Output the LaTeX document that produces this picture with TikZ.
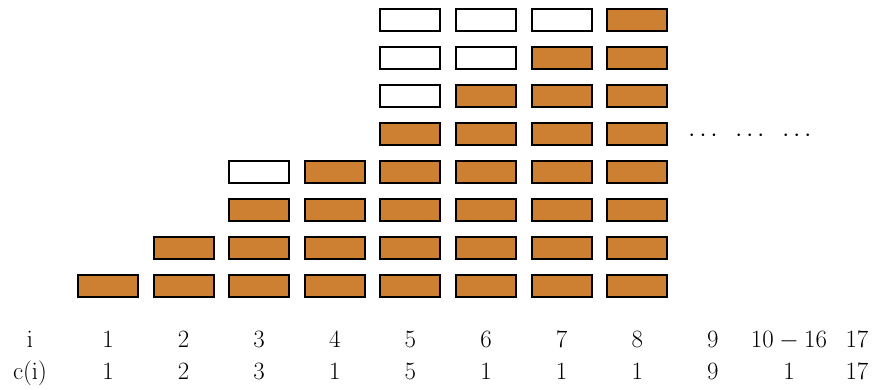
\documentclass[tikz,border=0pt]{standalone}
\definecolor{bronze}{RGB}{205,127,50}
\begin{document}
\begin{tikzpicture}[x=1pt,y=-1pt,
  brick/.style={draw=black,line width=2pt,minimum width=60pt,minimum height=22pt,inner sep=0pt},
  full/.style={brick,fill=bronze},
  empty/.style={brick,fill=white},
  lab/.style={font=\fontsize{26}{30}\selectfont,inner sep=0pt,anchor=base}]
\useasboundingbox (0,0) rectangle (879,390);
\foreach \k/\f/\e in {1/1/0,2/2/0,3/3/1,4/4/0,5/5/3,6/6/2,7/7/1,8/8/0}{
  \pgfmathsetmacro{\xc}{108+(\k-1)*75.6}
  \foreach \r in {1,...,\f}{
    \node[full] (b-\k-\r) at (\xc,{286.5-(\r-1)*38}) {};
  }
  \ifnum\e>0
    \pgfmathtruncatemacro{\tp}{\f+\e}
    \pgfmathtruncatemacro{\st}{\f+1}
    \foreach \r in {\st,...,\tp}{
      \node[empty] (b-\k-\r) at (\xc,{286.5-(\r-1)*38}) {};
    }
  \fi
}
\node[lab] (dots) at (750,142) {$\cdots\;\;\cdots\;\;\cdots$};
\node[lab] (ih) at (30,348) {$\mathrm{i}$};
\node[lab] (ch) at (30,380) {$\mathrm{c}(\mathrm{i})$};
\foreach \k/\a/\c in {1/1/1,2/2/2,3/3/3,4/4/1,5/5/5,6/6/1,7/7/1,8/8/1,9/9/9}{
  \node[lab] (i-\k) at ({108+(\k-1)*75.6},348) {$\a$};
  \node[lab] (c-\k) at ({108+(\k-1)*75.6},380) {$\c$};
}
\node[lab] (i-10) at (789,348) {$10-16$};
\node[lab] (c-10) at (789,380) {$1$};
\node[lab] (i-11) at (857,348) {$17$};
\node[lab] (c-11) at (857,380) {$17$};
\end{tikzpicture}
\end{document}
